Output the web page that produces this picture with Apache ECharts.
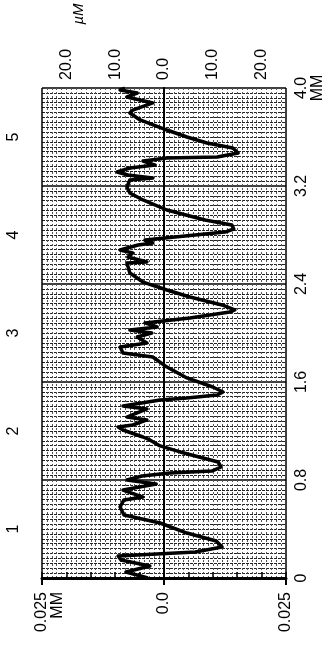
<!DOCTYPE html>
<html>
<head>
<meta charset="utf-8">
<script src="https://cdn.jsdelivr.net/npm/echarts@6/dist/echarts.min.js"></script>
<style>
html,body{margin:0;padding:0;background:#fff;}
#main{width:330px;height:664px;}
</style>
</head>
<body>
<div id="main"></div>
<script>
// profile trace: position along scan (mm) and height (µM)
var traceMM = [0.000,0.049,0.098,0.147,0.180,0.212,0.253,0.302,0.367,0.449,0.514,0.580,0.637,0.661,0.718,0.767,0.800,0.833,0.857,0.873,0.906,0.947,1.029,1.078,1.127,1.151,1.208,1.233,1.249,1.290,1.314,1.347,1.380,1.404,1.453,1.469,1.494,1.518,1.559,1.633,1.722,1.804,1.837,1.886,1.918,1.967,2.000,2.024,2.049,2.082,2.122,2.171,2.188,2.229,2.294,2.351,2.416,2.490,2.571,2.580,2.620,2.653,2.678,2.718,2.735,2.759,2.792,2.824,2.849,2.882,2.922,3.004,3.086,3.143,3.192,3.249,3.265,3.290,3.314,3.347,3.371,3.404,3.429,3.437,3.469,3.510,3.551,3.600,3.657,3.739,3.796,3.820,3.878,3.927,3.959,3.984,4.000];
var traceUM = [-3.3,-7.8,-2.9,-8.8,-9.4,6.4,11.9,10.7,4.7,-0.8,-8.2,-9.0,-8.2,-4.3,-8.4,-1.6,-7.6,-4.5,1.2,9.8,11.7,11.1,3.3,-0.8,-2.9,-4.3,-8.4,-9.4,-6.4,-3.5,-7.6,-5.5,-3.5,-8.4,-0.8,4.7,10.9,12.1,10.0,4.7,0.6,-2.3,-8.4,-9.0,-3.5,-5.5,-2.5,-7.0,-1.4,-3.9,5.3,13.5,14.5,11.9,5.3,0.6,-4.3,-7.0,-7.6,-3.5,-7.4,-6.4,-9.0,-5.3,-2.3,-3.9,4.3,12.5,14.3,13.9,8.4,0.6,-4.3,-7.0,-7.6,-7.0,-2.3,-7.4,-9.6,-7.0,-1.8,-4.3,0.6,10.9,15.2,14.1,8.8,4.7,0.6,-4.9,-7.0,-6.4,-2.3,-7.6,-5.5,-9.0,-8.0];

// tick labels
var umTicks = [-20,-10,0,10,20];
var umLabels = ['20.0','10.0','0.0','10.0','20.0'];
var depthTicks = [-25,0,25];
var depthLabels = ['\n0.025\nMM','0.0','0.025'];
var mmTicks = [0,0.8,1.6,2.4,3.2,4.0];
var mmLabels = ['0','0.8','1.6','2.4','3.2','4.0\nMM'];
var grooveTicks = [0.4,1.2,2.0,2.8,3.6];
var grooveLabels = ['1','2','3','4','5'];

function pick(ticks,labels){
    return function(v){
        for(var i=0;i<ticks.length;i++){
            if(Math.abs(v-ticks[i])<1e-6) return labels[i];
        }
        return '';
    };
}

var points = [];
for(var i=0;i<traceMM.length;i++){
    points.push([traceUM[i],traceMM[i]]);
}

var font = 'Liberation Sans';
var lbl = {color:'#000',fontFamily:font,fontSize:16};

var myChart = echarts.init(document.getElementById('main'));
var option = {
    animation:false,
    backgroundColor:'#fff',
    grid:{left:42,right:44,top:88,bottom:86,containLabel:false},
    graphic:[{
        type:'text',
        x:79,y:14,
        rotation:Math.PI/2,
        style:{text:'µM',font:'italic 15px "Liberation Sans"',fill:'#000',align:'center',verticalAlign:'middle'}
    }],
    xAxis:[
        {
            type:'value',position:'bottom',min:-25,max:25,interval:25,
            axisLine:{lineStyle:{color:'#000',width:2}},
            axisTick:{show:true,length:7,lineStyle:{color:'#000',width:2}},
            axisLabel:Object.assign({rotate:90,margin:14,formatter:pick(depthTicks,depthLabels)},lbl),
            splitLine:{show:true,lineStyle:{color:'#000',width:1.5}},
            minorTick:{show:false,splitNumber:25},
            minorSplitLine:{show:true,lineStyle:{color:'#555',width:1,type:[2,2]}}
        },
        {
            type:'value',position:'top',min:-25,max:25,interval:5,
            axisLine:{lineStyle:{color:'#000',width:3}},
            axisTick:{show:true,length:6,lineStyle:{color:'#000',width:1.5}},
            axisLabel:Object.assign({rotate:90,margin:8,formatter:pick(umTicks,umLabels)},lbl),
            splitLine:{show:false}
        }
    ],
    yAxis:[
        {
            type:'value',position:'right',min:0,max:4,interval:0.8,
            axisLine:{show:true,lineStyle:{color:'#000',width:2}},
            axisTick:{show:false},
            axisLabel:Object.assign({rotate:90,margin:8,formatter:pick(mmTicks,mmLabels)},lbl),
            splitLine:{show:true,lineStyle:{color:'#000',width:1.5}},
            minorTick:{show:false,splitNumber:20},
            minorSplitLine:{show:true,lineStyle:{color:'#222',width:1,type:[3,1]}}
        },
        {
            type:'value',position:'left',min:0,max:4,interval:0.4,
            axisLine:{show:true,lineStyle:{color:'#000',width:2}},
            axisTick:{show:false},
            axisLabel:Object.assign({rotate:90,margin:20,formatter:pick(grooveTicks,grooveLabels)},lbl),
            splitLine:{show:false}
        }
    ],
    series:[
        {
            type:'line',
            xAxisIndex:0,yAxisIndex:0,
            data:points,
            showSymbol:false,
            lineStyle:{color:'#000',width:3.5,join:'round'}
        }
    ]
};
myChart.setOption(option);
</script>
</body>
</html>
